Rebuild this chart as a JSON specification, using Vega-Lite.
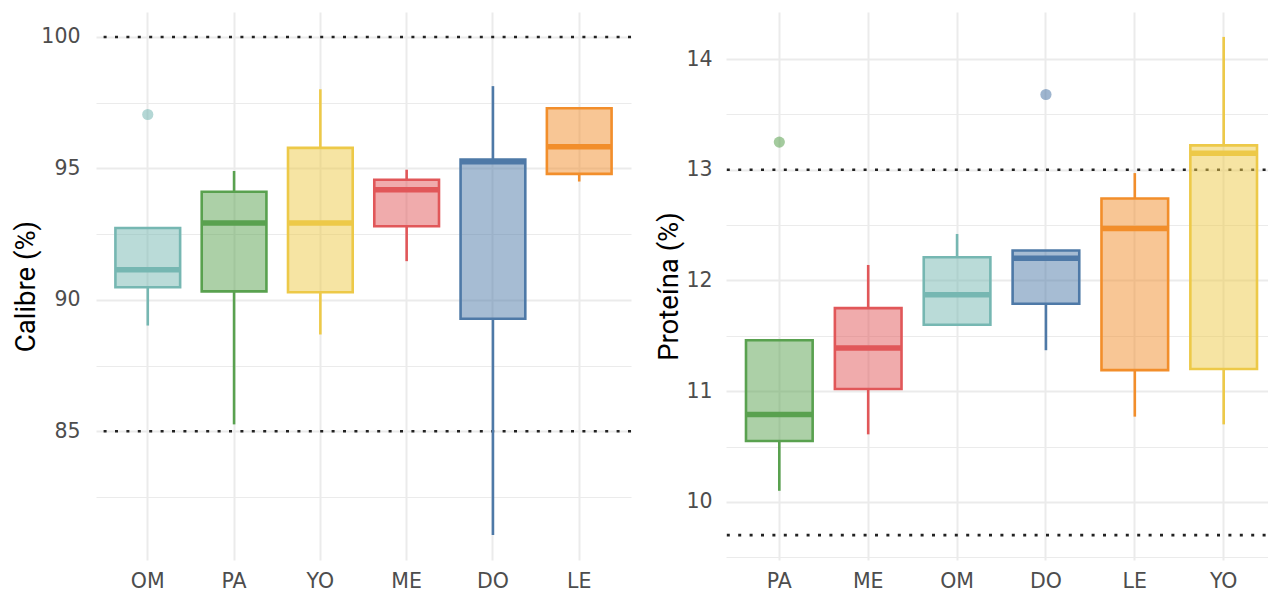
{
  "$schema": "https://vega.github.io/schema/vega-lite/v6.json",
  "bounds": "flush",
  "spacing": 95,
  "padding": {"left": 12, "top": 12, "right": 0, "bottom": 0},
  "background": "white",
  "config": {
    "view": {"stroke": null},
    "axis": {
      "gridColor": "#EBEBEB",
      "domain": false,
      "ticks": false,
      "labelFont": "DejaVu Sans",
      "labelFontSize": 20.5,
      "labelColor": "#4D4D4D",
      "titleFont": "Roboto",
      "titleFontSize": 27.5,
      "titleFontWeight": "normal",
      "titleColor": "#000000"
    }
  },
  "datasets": {
    "calibre": [
      {"grupo": "OM", "lower": 89.02, "q1": 90.48, "median": 91.14, "q3": 92.73, "upper": 92.73},
      {"grupo": "PA", "lower": 85.26, "q1": 90.32, "median": 92.92, "q3": 94.11, "upper": 94.90},
      {"grupo": "YO", "lower": 88.68, "q1": 90.29, "median": 92.92, "q3": 95.78, "upper": 98.01},
      {"grupo": "ME", "lower": 91.47, "q1": 92.80, "median": 94.19, "q3": 94.57, "upper": 94.95},
      {"grupo": "DO", "lower": 81.05, "q1": 89.28, "median": 95.25, "q3": 95.34, "upper": 98.13},
      {"grupo": "LE", "lower": 94.50, "q1": 94.79, "median": 95.82, "q3": 97.29, "upper": 97.29}
    ],
    "calibre_out": [
      {"grupo": "OM", "value": 97.05}
    ],
    "calibre_ref": [{"y": 85}, {"y": 100}],
    "proteina": [
      {"grupo": "PA", "lower": 10.10, "q1": 10.55, "median": 10.79, "q3": 11.46, "upper": 11.46},
      {"grupo": "ME", "lower": 10.61, "q1": 11.02, "median": 11.39, "q3": 11.75, "upper": 12.14},
      {"grupo": "OM", "lower": 11.60, "q1": 11.60, "median": 11.87, "q3": 12.21, "upper": 12.42},
      {"grupo": "DO", "lower": 11.37, "q1": 11.79, "median": 12.20, "q3": 12.27, "upper": 12.27},
      {"grupo": "LE", "lower": 10.77, "q1": 11.19, "median": 12.47, "q3": 12.74, "upper": 12.97},
      {"grupo": "YO", "lower": 10.70, "q1": 11.20, "median": 13.15, "q3": 13.22, "upper": 14.20}
    ],
    "proteina_out": [
      {"grupo": "PA", "value": 13.25},
      {"grupo": "DO", "value": 13.68}
    ],
    "proteina_ref": [{"y": 9.7}, {"y": 13}]
  },
  "hconcat": [
    {
      "width": 535,
      "height": 548,
      "layer": [
        {
          "data": {"name": "calibre_ref"},
          "mark": {"type": "rule", "strokeDash": [3, 8.4], "strokeWidth": 2.6, "color": "#222222"},
          "encoding": {
            "y": {
              "field": "y", "type": "quantitative",
              "scale": {"domain": [80.1, 100.95], "nice": false, "zero": false},
              "axis": {
                "title": "Calibre (%)",
                "values": [82.5, 85, 87.5, 90, 92.5, 95, 97.5, 100],
                "labelExpr": "datum.value % 5 === 0 ? format(datum.value, 'd') : ''",
                "gridWidth": {"condition": {"test": "datum.value % 5 !== 0", "value": 1}, "value": 2},
                "labelPadding": 16,
                "titlePadding": 0
              }
            }
          }
        },
        {
          "data": {"name": "calibre"},
          "mark": {"type": "rule", "strokeWidth": 2.6},
          "encoding": {
            "x": {
              "field": "grupo", "type": "nominal",
              "scale": {"domain": ["OM", "PA", "YO", "ME", "DO", "LE"], "paddingInner": 0.25, "paddingOuter": 0.225},
              "axis": {"title": null, "bandPosition": 0.5, "grid": true, "gridWidth": 2, "labelAngle": 0, "labelPadding": 11}
            },
            "y": {"field": "lower", "type": "quantitative"},
            "y2": {"field": "q1"},
            "color": {"field": "grupo", "type": "nominal", "legend": null,
              "scale": {"domain": ["OM", "PA", "YO", "ME", "DO", "LE"], "range": ["#76B7B2", "#59A14F", "#EDC948", "#E15759", "#4E79A7", "#F28E2B"]}}
          }
        },
        {
          "data": {"name": "calibre"},
          "mark": {"type": "rule", "strokeWidth": 2.6},
          "encoding": {
            "x": {"field": "grupo", "type": "nominal"},
            "y": {"field": "q3", "type": "quantitative"},
            "y2": {"field": "upper"},
            "color": {"field": "grupo", "type": "nominal", "legend": null}
          }
        },
        {
          "data": {"name": "calibre"},
          "mark": {"type": "bar", "fillOpacity": 0.5, "strokeWidth": 2.6},
          "encoding": {
            "x": {"field": "grupo", "type": "nominal"},
            "y": {"field": "q1", "type": "quantitative"},
            "y2": {"field": "q3"},
            "fill": {"field": "grupo", "type": "nominal", "legend": null,
              "scale": {"domain": ["OM", "PA", "YO", "ME", "DO", "LE"], "range": ["#76B7B2", "#59A14F", "#EDC948", "#E15759", "#4E79A7", "#F28E2B"]}},
            "stroke": {"field": "grupo", "type": "nominal", "legend": null,
              "scale": {"domain": ["OM", "PA", "YO", "ME", "DO", "LE"], "range": ["#76B7B2", "#59A14F", "#EDC948", "#E15759", "#4E79A7", "#F28E2B"]}}
          }
        },
        {
          "data": {"name": "calibre"},
          "mark": {"type": "tick", "thickness": 5.5, "opacity": 1},
          "encoding": {
            "x": {"field": "grupo", "type": "nominal"},
            "y": {"field": "median", "type": "quantitative"},
            "color": {"field": "grupo", "type": "nominal", "legend": null}
          }
        },
        {
          "data": {"name": "calibre_out"},
          "mark": {"type": "point", "filled": true, "opacity": 0.55, "size": 125},
          "encoding": {
            "x": {"field": "grupo", "type": "nominal"},
            "y": {"field": "value", "type": "quantitative"},
            "color": {"field": "grupo", "type": "nominal", "legend": null}
          }
        }
      ]
    },
    {
      "width": 551,
      "height": 548,
      "layer": [
        {
          "data": {"name": "proteina_ref"},
          "mark": {"type": "rule", "strokeDash": [3, 8.4], "strokeWidth": 2.6, "color": "#222222"},
          "encoding": {
            "y": {
              "field": "y", "type": "quantitative",
              "scale": {"domain": [9.475, 14.425], "nice": false, "zero": false},
              "axis": {
                "title": "Proteína (%)",
                "values": [9.5, 10, 10.5, 11, 11.5, 12, 12.5, 13, 13.5, 14],
                "labelExpr": "datum.value % 1 === 0 ? format(datum.value, 'd') : ''",
                "gridWidth": {"condition": {"test": "datum.value % 1 !== 0", "value": 1}, "value": 2},
                "labelPadding": 14,
                "titlePadding": 2
              }
            }
          }
        },
        {
          "data": {"name": "proteina"},
          "mark": {"type": "rule", "strokeWidth": 2.6},
          "encoding": {
            "x": {
              "field": "grupo", "type": "nominal",
              "scale": {"domain": ["PA", "ME", "OM", "DO", "LE", "YO"], "paddingInner": 0.25, "paddingOuter": 0.225},
              "axis": {"title": null, "bandPosition": 0.5, "grid": true, "gridWidth": 2, "labelAngle": 0, "labelPadding": 11}
            },
            "y": {"field": "lower", "type": "quantitative"},
            "y2": {"field": "q1"},
            "color": {"field": "grupo", "type": "nominal", "legend": null,
              "scale": {"domain": ["OM", "PA", "YO", "ME", "DO", "LE"], "range": ["#76B7B2", "#59A14F", "#EDC948", "#E15759", "#4E79A7", "#F28E2B"]}}
          }
        },
        {
          "data": {"name": "proteina"},
          "mark": {"type": "rule", "strokeWidth": 2.6},
          "encoding": {
            "x": {"field": "grupo", "type": "nominal"},
            "y": {"field": "q3", "type": "quantitative"},
            "y2": {"field": "upper"},
            "color": {"field": "grupo", "type": "nominal", "legend": null}
          }
        },
        {
          "data": {"name": "proteina"},
          "mark": {"type": "bar", "fillOpacity": 0.5, "strokeWidth": 2.6},
          "encoding": {
            "x": {"field": "grupo", "type": "nominal"},
            "y": {"field": "q1", "type": "quantitative"},
            "y2": {"field": "q3"},
            "fill": {"field": "grupo", "type": "nominal", "legend": null,
              "scale": {"domain": ["OM", "PA", "YO", "ME", "DO", "LE"], "range": ["#76B7B2", "#59A14F", "#EDC948", "#E15759", "#4E79A7", "#F28E2B"]}},
            "stroke": {"field": "grupo", "type": "nominal", "legend": null,
              "scale": {"domain": ["OM", "PA", "YO", "ME", "DO", "LE"], "range": ["#76B7B2", "#59A14F", "#EDC948", "#E15759", "#4E79A7", "#F28E2B"]}}
          }
        },
        {
          "data": {"name": "proteina"},
          "mark": {"type": "tick", "thickness": 5.5, "opacity": 1},
          "encoding": {
            "x": {"field": "grupo", "type": "nominal"},
            "y": {"field": "median", "type": "quantitative"},
            "color": {"field": "grupo", "type": "nominal", "legend": null}
          }
        },
        {
          "data": {"name": "proteina_out"},
          "mark": {"type": "point", "filled": true, "opacity": 0.55, "size": 125},
          "encoding": {
            "x": {"field": "grupo", "type": "nominal"},
            "y": {"field": "value", "type": "quantitative"},
            "color": {"field": "grupo", "type": "nominal", "legend": null}
          }
        }
      ]
    }
  ]
}
